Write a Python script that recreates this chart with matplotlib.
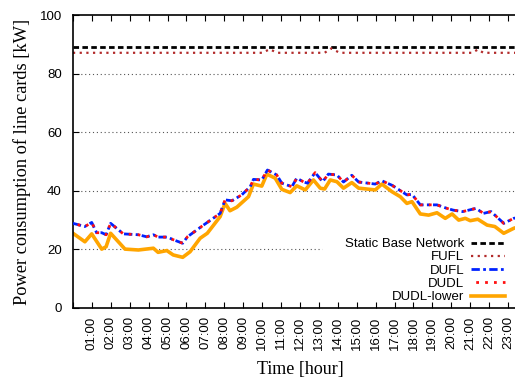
# Power consumption of line cards over one day
import numpy as np
import matplotlib
matplotlib.use('Agg')
import matplotlib.pyplot as plt

# Data (hour of day -> kW)
static_h = [0, 24]
static_v = [89.2, 89.2]

fufl_h = [0, 10.0, 10.4, 10.8, 13.3, 13.65, 14.1, 21.1, 21.4, 21.7, 24]
fufl_v = [87.1, 87.1, 88.3, 87.1, 87.1, 88.6, 87.1, 87.1, 88.2, 87.1, 87.1]

dufl_h = [0, 0.63, 0.99, 1.25, 1.52, 1.75, 1.99, 2.66, 3.46, 3.9, 4.25, 4.5,
          5.0, 5.3, 5.8, 6.05, 6.9, 7.78, 8.04, 8.4, 8.92, 9.37, 9.54, 9.98,
          10.28, 10.77, 11.04, 11.57, 11.83, 12.2, 12.4, 12.8, 13.2, 13.5,
          13.95, 14.3, 14.74, 15.1, 15.98, 16.33, 16.86, 17.39, 17.65, 17.92,
          18.36, 19.24, 19.77, 20.1, 20.6, 21.3, 21.7, 22.1, 22.77, 23.3, 23.6]
dufl_v = [28.9, 27.8, 29.2, 25.7, 25.7, 25.0, 28.9, 25.3, 25.0, 24.3, 25.0, 24.2,
          24.2, 23.3, 22.1, 24.3, 28.3, 32.3, 36.9, 36.6, 38.6, 41.4, 43.9, 43.7,
          47.1, 45.4, 42.6, 41.4, 44.3, 43.0, 42.6, 46.2, 43.1, 45.7,
          45.4, 43.0, 45.3, 43.0, 42.3, 43.4, 41.9, 39.7, 38.6, 38.8,
          35.2, 35.2, 34.0, 33.4, 32.9, 34.0, 32.3, 32.9, 28.9, 30.6, 31.0]

# DUDL sits right on top of DUFL in the picture
dudl_h = list(dufl_h)
dudl_v = list(dufl_v)

lower_h = [0, 0.63, 0.99, 1.52, 1.75, 1.99, 2.75, 3.46, 4.25, 4.5, 4.96, 5.3,
           5.8, 6.19, 6.72, 7.1, 7.78, 8.04, 8.3, 8.66, 9.28, 9.54, 9.98, 10.25,
           10.69, 11.04, 11.48, 11.83, 12.28, 12.71, 13.07, 13.3, 13.6, 13.95,
           14.3, 14.74, 15.1, 15.98, 16.33, 16.86, 17.3, 17.65, 17.92, 18.36,
           18.8, 19.24, 19.68, 20.04, 20.39, 20.74, 21.0, 21.4, 21.89, 22.3,
           22.77, 23.3, 23.6]
lower_v = [25.5, 22.6, 25.3, 20.1, 20.9, 25.5, 20.1, 19.8, 20.4, 19.0, 19.6, 18.1,
           17.3, 19.2, 23.8, 25.5, 31.2, 35.7, 33.2, 34.4, 38.0, 42.3, 41.6, 45.7,
           44.3, 40.5, 39.4, 41.7, 40.3, 43.7, 40.9, 40.6, 43.7, 43.1,
           40.9, 42.8, 40.9, 40.3, 42.3, 39.7, 38.0, 35.7, 36.3, 32.1,
           31.7, 32.5, 30.6, 32.1, 30.0, 30.6, 29.8, 30.3, 28.3, 27.8,
           25.5, 27.2, 27.8]

hour_ticks = list(range(1, 24))
hour_labels = ['%02d:00' % h for h in hour_ticks]

plt.rcParams['font.family'] = ['Liberation Sans', 'DejaVu Sans']

fig = plt.figure(figsize=(5.15, 3.78), dpi=100)
# axes run past the right edge like in the reference (cropped plot)
ax = fig.add_axes([0.1417, 0.1852, 0.8816, 0.7751])

ax.plot(static_h, static_v, color='black', lw=2.0, linestyle=(0, (2.0, 1.2)),
        label='Static Base Network')
ax.plot(fufl_h, fufl_v, color='#b22a2a', lw=1.6, linestyle=(0, (1.0, 2.0)),
        label='FUFL')
ax.plot(lower_h, lower_v, color='#ffa500', lw=2.6, label='DUDL-lower', zorder=2)
ax.plot(dufl_h, dufl_v, color='#0022ff', lw=2.0,
        linestyle=(0, (3.0, 1.2, 1.0, 1.2)), label='DUFL', zorder=3)
ax.plot(dudl_h, dudl_v, color='#ff1010', lw=2.0,
        linestyle=(1.5, (1.0, 2.2, 1.0, 2.2)), label='DUDL', zorder=4)

ax.set_xlim(0, 24)
ax.set_ylim(0, 100)
ax.set_yticks([0, 20, 40, 60, 80, 100])
ax.set_xticks(range(0, 24))
ax.set_xticklabels([''] + hour_labels, rotation=90)
ax.tick_params(axis='x', direction='in', top=True, length=4, pad=6, labelsize=9.5)
ax.tick_params(axis='y', direction='in', length=4, pad=8, labelsize=9.5)
ax.spines['right'].set_visible(False)
for sp in ax.spines.values():
    sp.set_linewidth(1.2)

# dotted grid; the key box hides the left part of the 20 line
for yv in [40, 60, 80]:
    ax.axhline(yv, color='#555555', lw=0.8, linestyle=(0, (1, 2.5)), zorder=1)
ax.axhline(20, xmax=0.548, color='#555555', lw=0.8, linestyle=(0, (1, 2.5)), zorder=1)

ax.set_xlabel('Time [hour]', fontsize=13, family='Liberation Serif', labelpad=8)
ax.set_ylabel('Power consumption of line cards [kW]', fontsize=13.2,
              family='Liberation Serif', labelpad=6)

# legend: labels on the left, handles on the right, no frame
handles, labels = ax.get_legend_handles_labels()
order = [0, 1, 3, 4, 2]
leg = ax.legend([handles[i] for i in order], [labels[i] for i in order],
                loc='lower right', bbox_to_anchor=(0.975, -0.02),
                markerfirst=False, frameon=False, fontsize=9.5,
                handlelength=2.6, handletextpad=0.5, labelspacing=0.08,
                borderpad=0.3)
leg.set_zorder(5)

plt.savefig('out.png', dpi=100)
